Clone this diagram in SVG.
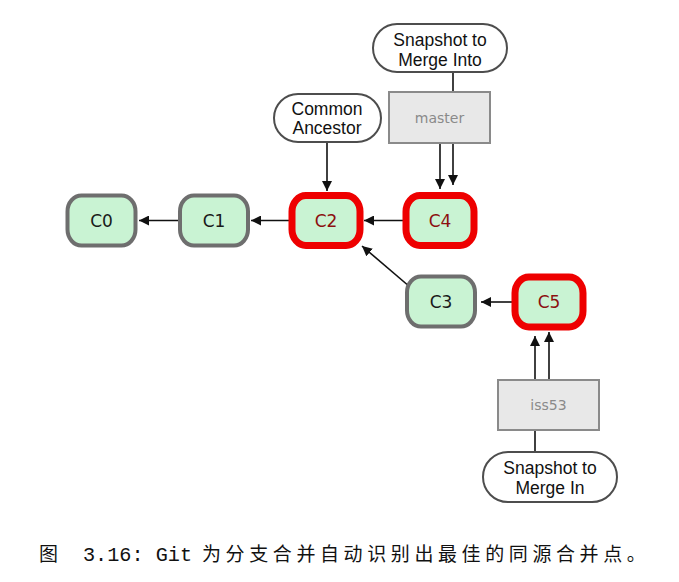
<svg xmlns="http://www.w3.org/2000/svg" width="679" height="582" viewBox="0 0 679 582">
  <defs>
    <style>
      .commit { fill: #c9f3d3; }
      .gray { stroke: #6e6e6e; stroke-width: 4; }
      .red { stroke: #ee0000; stroke-width: 7; }
      .clabel { font-family: "DejaVu Sans", sans-serif; font-size: 17px; text-anchor: middle; }
      .cblack { fill: #1a1a1a; }
      .cred { fill: #8c1010; }
      .branch { fill: #e8e8e8; stroke: #8a8a8a; stroke-width: 2; }
      .blabel { font-family: "DejaVu Sans", sans-serif; font-size: 14px; fill: #8a8a8a; text-anchor: middle; }
      .bubble { fill: #ffffff; stroke: #4d4d4d; stroke-width: 2; }
      .note { font-family: "Liberation Sans", Arial, sans-serif; font-size: 17.5px; fill: #111; text-anchor: middle; }
      .conn line { stroke: #111; stroke-width: 1.6; fill: none; }
      .conn .arrow { marker-end: url(#ah); }
      .cap { fill: #111; }
    </style>
    <marker id="ah" viewBox="0 0 10 10" refX="10" refY="5" markerWidth="10" markerHeight="10" markerUnits="userSpaceOnUse" orient="auto">
      <path d="M0,0 L10,5 L0,10 z" fill="#111"/>
    </marker>
  </defs>

  <g id="connectors" class="conn">
    <line class="arrow" x1="178" y1="220.5" x2="139" y2="220.5"/>
    <line class="arrow" x1="290" y1="220.5" x2="251" y2="220.5"/>
    <line class="arrow" x1="403" y1="220.5" x2="364" y2="220.5"/>
    <line class="arrow" x1="410" y1="287" x2="362" y2="246"/>
    <line class="arrow" x1="512" y1="302" x2="481" y2="302"/>
    <line class="arrow" x1="327" y1="143" x2="327" y2="191"/>
    <line class="arrow" x1="440" y1="144" x2="440" y2="189"/>
    <line class="arrow" x1="453" y1="144" x2="453" y2="185"/>
    <line x1="453" y1="73" x2="453" y2="92"/>
    <line class="arrow" x1="535" y1="380" x2="535" y2="336"/>
    <line class="arrow" x1="549" y1="380" x2="549" y2="332"/>
    <line x1="535" y1="430" x2="535" y2="452"/>
  </g>

  <g id="C0">
    <rect class="commit gray" x="67.5" y="195.5" width="68" height="50" rx="14" ry="16"/>
    <text class="clabel cblack" x="101.5" y="226.5">C0</text>
  </g>
  <g id="C1">
    <rect class="commit gray" x="180" y="195.5" width="68" height="50" rx="14" ry="16"/>
    <text class="clabel cblack" x="214" y="226.5">C1</text>
  </g>
  <g id="C2">
    <rect class="commit red" x="292" y="195.5" width="68" height="50" rx="14" ry="16"/>
    <text class="clabel cred" x="326" y="226.5">C2</text>
  </g>
  <g id="C4">
    <rect class="commit red" x="406" y="195.5" width="68" height="50" rx="14" ry="16"/>
    <text class="clabel cred" x="440" y="226.5">C4</text>
  </g>
  <g id="C3">
    <rect class="commit gray" x="407" y="276.5" width="68" height="50" rx="14" ry="16"/>
    <text class="clabel cblack" x="441" y="307.5">C3</text>
  </g>
  <g id="C5">
    <rect class="commit red" x="515" y="277" width="68" height="50" rx="14" ry="16"/>
    <text class="clabel cred" x="549" y="308">C5</text>
  </g>

  <g id="master">
    <rect class="branch" x="389" y="92" width="101" height="51"/>
    <text class="blabel" x="439.5" y="123">master</text>
  </g>
  <g id="iss53">
    <rect class="branch" x="498" y="380" width="101" height="50"/>
    <text class="blabel" x="548.5" y="410">iss53</text>
  </g>

  <g id="note-merge-into">
    <rect class="bubble" x="373" y="24" width="134" height="48" rx="24" ry="24"/>
    <text class="note" x="440" y="46">Snapshot to</text>
    <text class="note" x="440" y="66">Merge Into</text>
  </g>
  <g id="note-common-ancestor">
    <rect class="bubble" x="274" y="94" width="107" height="48" rx="24" ry="24"/>
    <text class="note" x="327" y="115">Common</text>
    <text class="note" x="327" y="134">Ancestor</text>
  </g>
  <g id="note-merge-in">
    <rect class="bubble" x="483" y="452" width="134" height="50" rx="25" ry="25"/>
    <text class="note" x="550" y="474">Snapshot to</text>
    <text class="note" x="550" y="494">Merge In</text>
  </g>

  <g id="caption" class="cap">
    <text x="39" y="561" font-family="'Noto Sans CJK SC', sans-serif" font-size="19">图</text>
    <text x="83" y="561" font-family="'Liberation Mono', 'Noto Sans CJK SC', monospace" font-size="20.2">3.16: Git</text>
    <text x="202" y="561" font-family="'Noto Sans CJK SC', sans-serif" font-size="19" letter-spacing="4.6">为分支合并自动识别出最佳的同源合并点。</text>
  </g>
</svg>
